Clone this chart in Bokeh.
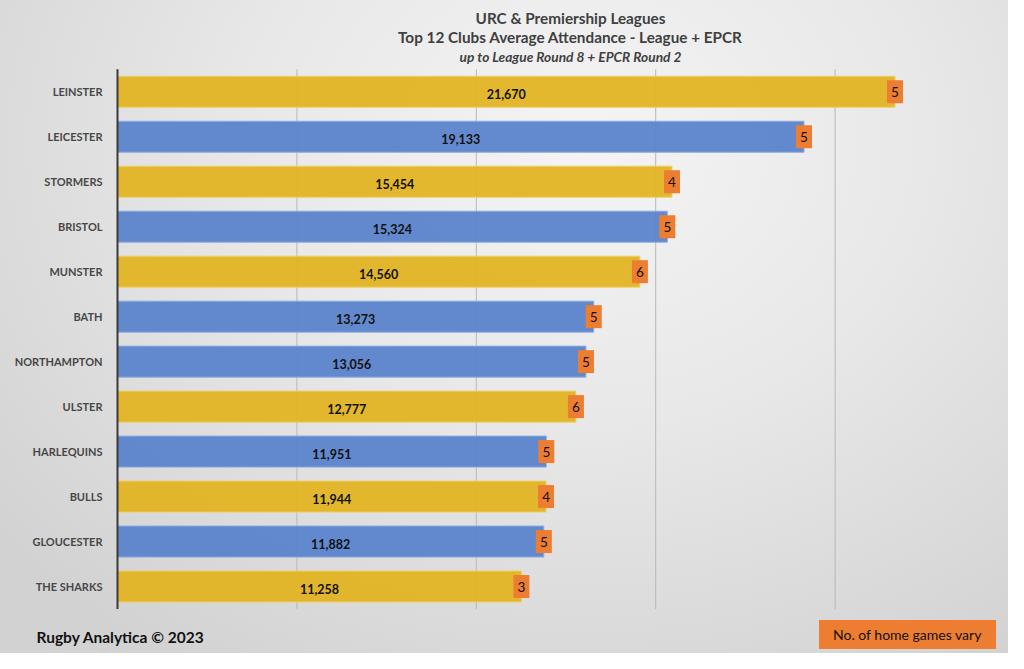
from bokeh.plotting import figure
from bokeh.models import Range1d, Label, ColumnDataSource
from bokeh.core.properties import value
from bokeh.embed import file_html
from bokeh.resources import INLINE

# ---- data ----
clubs = ["LEINSTER", "LEICESTER", "STORMERS", "BRISTOL", "MUNSTER", "BATH",
         "NORTHAMPTON", "ULSTER", "HARLEQUINS", "BULLS", "GLOUCESTER", "THE SHARKS"]
attendance = [21670, 19133, 15454, 15324, 14560, 13273, 13056, 12777, 11951, 11944, 11882, 11258]
home_games = [5, 5, 4, 5, 6, 5, 5, 6, 5, 4, 5, 3]
league = ["URC", "Premiership", "URC", "Premiership", "URC", "Premiership",
          "Premiership", "URC", "Premiership", "URC", "Premiership", "URC"]
grid_ticks = [5000, 10000, 15000, 20000]

title_lines = ["URC & Premiership Leagues",
               "Top 12 Clubs Average Attendance - League + EPCR",
               "up to League Round 8 + EPCR Round 2"]
footer_text = "Rugby Analytica © 2023"
note_text = "No. of home games vary"

league_colors = {"URC": "#E2B424", "Premiership": "#5B84CB"}
league_edges = {"URC": "#EFD06A", "Premiership": "#8FACDD"}

n = len(clubs)
pos = [n - 1 - i for i in range(n)]          # rank position, top = first club

src = ColumnDataSource(dict(
    club=clubs,
    y=pos,
    att=attendance,
    mid=[a / 2 for a in attendance],
    att_txt=[f"{a:,}" for a in attendance],
    games=[str(g) for g in home_games],
    color=[league_colors[l] for l in league],
    edge=[league_edges[l] for l in league],
))

W, H = 1008, 653
p = figure(width=W, height=H,
           x_range=Range1d(-3261, 24833),
           y_range=Range1d(-1.489, n - 1 + 2.029),
           x_axis_location=None, y_axis_location=None,
           output_backend="svg", toolbar_location=None,
           min_border=0)

p.background_fill_color = None
p.border_fill_color = None
p.outline_line_color = None
p.xgrid.visible = False
p.ygrid.visible = False
p.styles = {"background": "radial-gradient(ellipse 75% 95% at 58% 22%, #f4f4f4 0%, #e8e8e8 45%, #d2d2d2 100%)"}

band_lo, band_hi = -0.5, n - 0.5

# vertical gridlines
p.segment(x0=grid_ticks, x1=grid_ticks, y0=band_lo, y1=band_hi,
          line_color="#b8b8b8", line_width=1)

# bars
p.hbar(y="y", left=0, right="att", height=0.69, fill_color="color",
       fill_alpha=0.95, line_color="edge", line_width=1, source=src)

# category axis line + labels
p.segment(x0=[0], x1=[0], y0=[band_lo], y1=[band_hi], line_color="#3a3a3a", line_width=2)
p.text(x=0, y="y", text="club", x_offset=-15, text_align="right", text_baseline="middle",
       text_font=value("Lato"), text_font_style="bold", text_font_size="11px",
       text_color="#474747", source=src)

# value labels
p.text(x="mid", y="y", text="att_txt", text_align="center", text_baseline="middle",
       text_font=value("Lato"), text_font_style="bold", text_font_size="12.5px",
       text_color="#111111", y_offset=2, source=src)

# home-game boxes
p.rect(x="att", y="y", width=16, height=23, width_units="screen", height_units="screen",
       fill_color="#ED7D31", line_color=None, source=src)
p.text(x="att", y="y", text="games", text_align="center", text_baseline="middle",
       text_font=value("Lato"), text_font_size="13.5px", text_color="#111111", source=src)

# titles (screen units: from frame left / frame bottom)
for t, y, style, size in zip(title_lines, [636, 617, 597],
                             ["bold", "bold", "bold italic"], ["15.3px", "15.3px", "13.7px"]):
    p.add_layout(Label(x=570, y=y, x_units="screen", y_units="screen", text=t,
                       text_align="center", text_baseline="middle",
                       text_font="Lato", text_font_style=style, text_font_size=size,
                       text_color="#404040"))

p.add_layout(Label(x=36, y=17, x_units="screen", y_units="screen",
                   text=footer_text, text_align="left", text_baseline="middle",
                   text_font="Lato", text_font_style="bold", text_font_size="15.5px",
                   text_color="#111111"))

p.add_layout(Label(x=907, y=19, x_units="screen", y_units="screen",
                   text=note_text, text_align="center", text_baseline="middle",
                   text_font="Lato", text_font_size="14px", text_color="#111111",
                   background_fill_color="#ED7D31", padding=(14, 14, 6, 6)))

open("out.html", "w").write(file_html(p, INLINE))
